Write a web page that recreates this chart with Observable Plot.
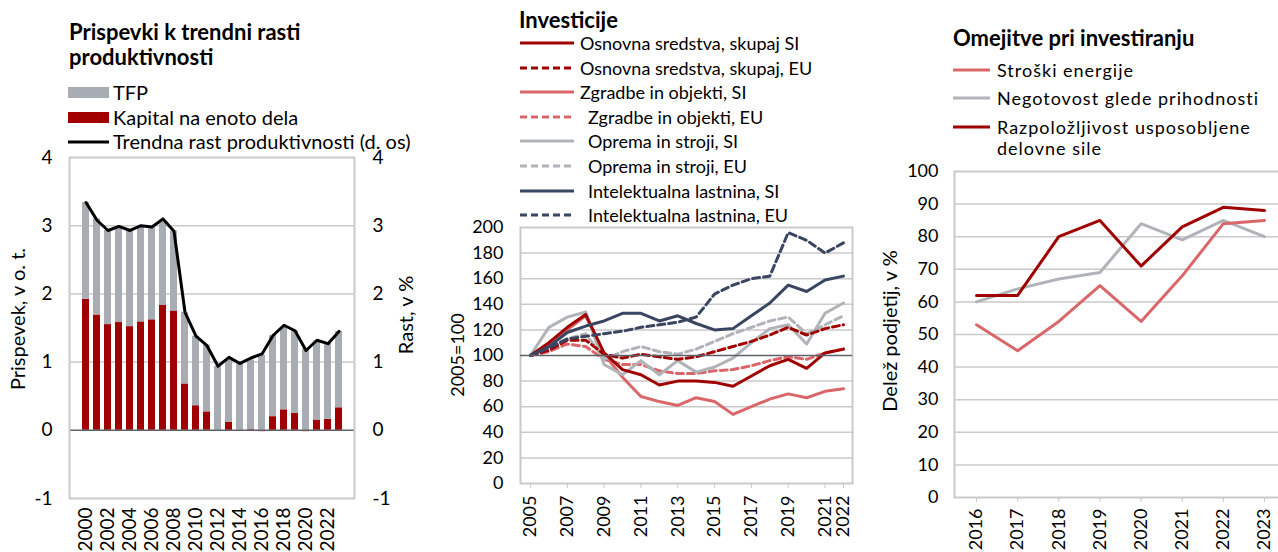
<!DOCTYPE html>
<html><head><meta charset="utf-8">
<script src="https://cdn.jsdelivr.net/npm/d3@7"></script>
<script src="https://cdn.jsdelivr.net/npm/@observablehq/plot@0.6"></script>
<style>
html,body{margin:0;padding:0;background:#fff;overflow:hidden;width:1278px;height:552px;font-family:Lato,"Open Sans",sans-serif;color:#000}
.abs{position:absolute;white-space:nowrap}
.title{font-weight:bold;font-size:22px;line-height:25px}
.leg{font-size:18px;line-height:20px}
.vlab{position:absolute;font-size:18px;white-space:nowrap;transform:translate(-50%,-50%) rotate(-90deg)}
svg{overflow:visible}
</style></head><body>
<script>
// ---------- Panel 1 data ----------
const prodYears = [2000,2001,2002,2003,2004,2005,2006,2007,2008,2009,2010,2011,2012,2013,2014,2015,2016,2017,2018,2019,2020,2021,2022,2023];
const prodTickYears = [2000,2002,2004,2006,2008,2010,2012,2014,2016,2018,2020,2022];
const kapital = [1.92,1.69,1.55,1.58,1.52,1.59,1.62,1.83,1.75,0.68,0.36,0.27,0.00,0.12,0.00,0.01,-0.02,0.20,0.30,0.25,-0.02,0.15,0.16,0.33];
const tfp     = [1.42,1.41,1.38,1.39,1.41,1.40,1.35,1.23,1.17,1.05,1.02,0.98,0.94,0.91,0.98,1.02,1.10,1.19,1.21,1.21,1.19,1.16,1.11,1.12];
const trend   = [3.34,3.08,2.93,2.99,2.93,3.00,2.98,3.10,2.92,1.73,1.38,1.24,0.94,1.07,0.98,1.06,1.12,1.39,1.54,1.46,1.17,1.32,1.27,1.45];
const prodTicks = [-1,0,1,2,3,4];
const prodLegend = ["TFP","Kapital na enoto dela","Trendna rast produktivnosti (d. os)"];

// ---------- Panel 2 data ----------
const invYears = [2005,2006,2007,2008,2009,2010,2011,2012,2013,2014,2015,2016,2017,2018,2019,2020,2021,2022];
const invTickYears = [2005,2007,2009,2011,2013,2015,2017,2019,2021,2022];
const osnovnaSI = [100,110,122,132,102,89,85,77,80,80,79,76,84,92,97,90,102,105];
const osnovnaEU = [100,104,112,112,101,98,101,99,97,99,103,107,111,116,122,116,121,124];
const zgradbeSI = [100,107,120,131,101,83,68,64,61,67,64,54,60,66,70,67,72,74];
const zgradbeEU = [100,103,109,107,97,93,93,88,86,86,88,89,92,96,99,97,102,105];
const opremaSI  = [100,122,130,134,93,85,96,85,96,87,91,98,110,121,124,109,133,141];
const opremaEU  = [100,106,113,117,97,103,107,103,101,105,111,117,122,127,130,117,124,131];
const intelSI   = [100,107,118,123,127,133,133,127,131,125,120,121,131,141,155,150,159,162];
const intelEU   = [100,106,113,115,117,119,122,124,126,130,148,155,160,162,196,190,180,188];
const invTicks = [0,20,40,60,80,100,120,140,160,180,200];
const invNames = ["Osnovna sredstva, skupaj SI","Osnovna sredstva, skupaj, EU","Zgradbe in objekti, SI","Zgradbe in objekti, EU","Oprema in stroji, SI","Oprema in stroji, EU","Intelektualna lastnina, SI","Intelektualna lastnina, EU"];

// ---------- Panel 3 data ----------
const omYears = [2016,2017,2018,2019,2020,2021,2022,2023];
const stroskiEnergije = [53,45,54,65,54,68,84,85];
const negotovost      = [60,64,67,69,84,79,85,80];
const razpolozljivost = [62,62,80,85,71,83,89,88];
const omTicks = [0,10,20,30,40,50,60,70,80,90,100];
const omNames = ["Stroški energije","Negotovost glede prihodnosti","Razpoložljivost usposobljene<br>delovne sile"];

// ---------- styles ----------
const RED = "#a00000", PINK = "#d9676a", LGRAY = "#b0b4b9", BARGRAY = "#a7adb3", NAVY = "#3a4561";
const GRID = "#cacaca", ZERO = "#5d6168";
const FONT = "Lato, 'Open Sans', sans-serif";
const baseStyle = {fontSize:"18px", fontFamily:FONT, color:"#000", background:"transparent", overflow:"visible"};
const fmt = d => String(d);

function place(el, left, top){ el.style.position="absolute"; el.style.left=left+"px"; el.style.top=top+"px"; document.body.appendChild(el); return el; }
function div(html, cls, left, top){ const d=document.createElement("div"); d.className="abs "+(cls||""); d.innerHTML=html; return place(d,left,top); }
function vlab(text, cx, cy, size, ls){ const d=document.createElement("div"); d.className="vlab"; d.textContent=text; d.style.left=cx+"px"; d.style.top=cy+"px"; if(size) d.style.fontSize=size+"px"; if(ls) d.style.letterSpacing=ls+"px"; document.body.appendChild(d); }
function lineSwatch(x, cy, w, color, dash){
  const s=`<svg width="${w}" height="6" style="display:block"><line x1="0" x2="${w}" y1="3" y2="3" stroke="${color}" stroke-width="3" ${dash?`stroke-dasharray="${dash}"`:""}/></svg>`;
  div(s,"",x,cy-3);
}
function rectSwatch(x, cy, w, h, color){ const d=div("","",x,cy-h/2); d.style.width=w+"px"; d.style.height=h+"px"; d.style.background=color; }
function legText(text, x, cy, size, ls){ const d=div(text,"leg",x,cy-11); if(size){d.style.fontSize=size+"px"; d.style.lineHeight="22px";} if(ls) d.style.letterSpacing=ls+"px"; return d; }

// ---------- Panel 1 ----------
div("Prispevki k trendni rasti<br>produktivnosti","title",69,19);
rectSwatch(68,92,41,11,BARGRAY); legText(prodLegend[0],113,92,20);
rectSwatch(68,117,41,11,RED); legText(prodLegend[1],113,117,20);
lineSwatch(68,142,41,"#000"); legText(prodLegend[2],113,141,20);

const prodRows = [];
prodYears.forEach((y,i)=>prodRows.push({year:y, part:prodLegend[1], v:kapital[i]}));
prodYears.forEach((y,i)=>prodRows.push({year:y, part:prodLegend[0], v:tfp[i]}));
const trendRows = prodYears.map((y,i)=>({year:y, v:trend[i]}));

const p1 = Plot.plot({
  width:430, height:412, marginLeft:69, marginRight:76, marginTop:17, marginBottom:54,
  style: {...baseStyle, fontSize:"19px"},
  x:{type:"band", domain:prodYears, paddingInner:0.38, paddingOuter:0.2},
  y:{domain:[-1,4]},
  color:{domain:[prodLegend[1],prodLegend[0]], range:[RED,BARGRAY]},
  marks:[
    Plot.ruleY(prodTicks.filter(t=>t>0&&t<4), {y:d=>d, stroke:GRID, strokeWidth:1.5}),
    Plot.barY(prodRows, {x:"year", y:"v", fill:"part"}),
    Plot.ruleY([0], {stroke:ZERO, strokeWidth:1.5}),
    Plot.lineY(trendRows, {x:"year", y:"v", stroke:"#000", strokeWidth:3}),
    Plot.frame({stroke:GRID, strokeWidth:2}),
    Plot.axisY(prodTicks, {anchor:"left", tickSize:0, tickPadding:17, label:null, tickFormat:fmt}),
    Plot.axisY(prodTicks, {anchor:"right", tickSize:0, tickPadding:18, label:null, tickFormat:fmt}),
    Plot.axisX(prodTickYears, {anchor:"bottom", tickRotate:-90, tickSize:0, tickPadding:9, label:null, tickFormat:fmt})
  ]
});
place(p1,0,140);
vlab("Prispevek,  v o. t.",17,319,20);
vlab("Rast, v %",405,315,20);

// ---------- Panel 2 ----------
div("Investicije","title",519,7);
const invSeries = [
  {name:invNames[0], vals:osnovnaSI, color:RED, dash:null, tx:580},
  {name:invNames[1], vals:osnovnaEU, color:RED, dash:"7,4", tx:580},
  {name:invNames[2], vals:zgradbeSI, color:PINK, dash:null, tx:580},
  {name:invNames[3], vals:zgradbeEU, color:PINK, dash:"7,4", tx:588},
  {name:invNames[4], vals:opremaSI, color:LGRAY, dash:null, tx:588},
  {name:invNames[5], vals:opremaEU, color:LGRAY, dash:"7,4", tx:588},
  {name:invNames[6], vals:intelSI, color:NAVY, dash:null, tx:588},
  {name:invNames[7], vals:intelEU, color:NAVY, dash:"7,4", tx:588}
];
invSeries.forEach((s,i)=>{ const cy=43+i*24.6; lineSwatch(520,cy,54,s.color,s.dash); legText(s.name,s.tx,cy+1); });
const drawOrder = [3,2,5,4,1,0,7,6];
const p2 = Plot.plot({
  width:440, height:352, marginLeft:90, marginRight:18, marginTop:27, marginBottom:69,
  style: baseStyle,
  x:{domain:[2004.46,2022.49]},
  y:{domain:[0,200]},
  marks:[
    Plot.ruleY(invTicks.filter(t=>t>0&&t<200&&t!==100), {y:d=>d, stroke:GRID, strokeWidth:1.5}),
    Plot.frame({stroke:GRID, strokeWidth:2}),
    ...drawOrder.map(i=>{ const s=invSeries[i]; return Plot.line(invYears.map((y,j)=>({year:y, v:s.vals[j]})), {x:"year", y:"v", stroke:s.color, strokeWidth:3, strokeDasharray:s.dash||undefined}); }),
    Plot.ruleY([100], {stroke:ZERO, strokeWidth:1.5}),
    Plot.axisY(invTicks, {anchor:"left", tickSize:0, tickPadding:17, label:null, tickFormat:fmt}),
    Plot.axisX(invTickYears, {anchor:"bottom", tickRotate:-90, tickSize:5, stroke:GRID, tickPadding:7, label:null, tickFormat:fmt})
  ]
});
place(p2,430,200);
vlab("2005=100",457,355);

// ---------- Panel 3 ----------
div("Omejitve pri investiranju","title",953,25);
const omSeries = [
  {name:omNames[0], vals:stroskiEnergije, color:PINK, cy:70},
  {name:omNames[1], vals:negotovost, color:LGRAY, cy:98},
  {name:omNames[2], vals:razpolozljivost, color:RED, cy:127}
];
omSeries.forEach(s=>{ lineSwatch(953,s.cy,37,s.color,null); const d=legText(s.name,997,s.cy,18,1); d.style.lineHeight="21px"; d.style.top=(s.cy-10)+"px"; });
const p3 = Plot.plot({
  width:410, height:402, marginLeft:74, marginRight:4, marginTop:21, marginBottom:55,
  style: baseStyle,
  x:{domain:[2015.465,2023.535]},
  y:{domain:[0,100]},
  marks:[
    Plot.ruleY(omTicks.filter(t=>t>0&&t<100), {y:d=>d, stroke:GRID, strokeWidth:1.5}),
    Plot.frame({stroke:GRID, strokeWidth:2}),
    ...[1,0,2].map(i=>{ const s=omSeries[i]; return Plot.line(omYears.map((y,j)=>({year:y, v:s.vals[j]})), {x:"year", y:"v", stroke:s.color, strokeWidth:3}); }),
    Plot.axisY(omTicks, {anchor:"left", tickSize:0, tickPadding:16, label:null, tickFormat:fmt}),
    Plot.axisX(omYears, {anchor:"bottom", tickRotate:-90, tickSize:5, stroke:GRID, tickPadding:6, label:null, tickFormat:fmt})
  ]
});
place(p3,880,150);
vlab("Delež podjetij,  v %",889,331,20);
</script>
</body></html>
